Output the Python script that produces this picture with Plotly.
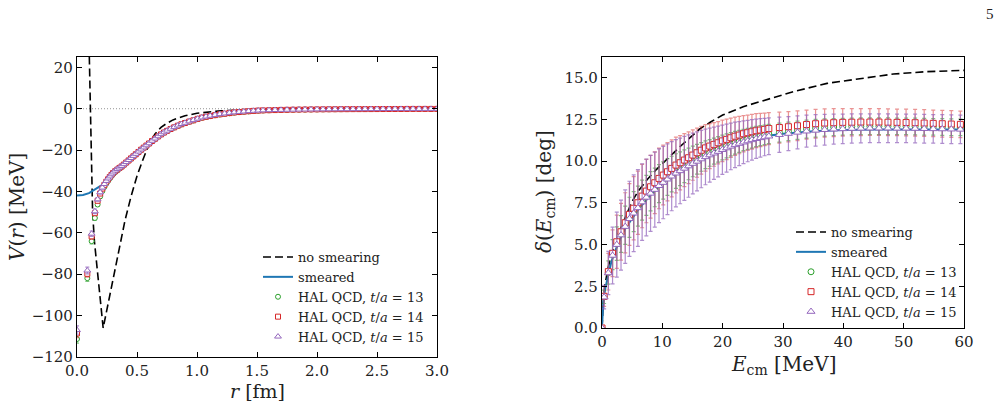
import plotly.graph_objects as go

# ---------------- Left panel data: V(r) ----------------
r_hal = [0.0, 0.086, 0.122, 0.149, 0.172, 0.193, 0.211, 0.228, 0.244, 0.259, 0.273, 0.287, 0.300,
         0.318, 0.336, 0.354, 0.372, 0.390, 0.410, 0.430, 0.450, 0.470, 0.490, 0.512, 0.534, 0.556,
         0.578, 0.600, 0.625, 0.650, 0.675, 0.700, 0.725, 0.750, 0.780, 0.810, 0.840, 0.870, 0.900,
         0.935, 0.970, 1.005, 1.040, 1.075, 1.110, 1.150, 1.190, 1.230, 1.270, 1.310, 1.350, 1.390,
         1.430, 1.470, 1.510, 1.55, 1.60, 1.65, 1.70, 1.75, 1.80, 1.85, 1.90, 1.95, 2.00, 2.05, 2.10,
         2.15, 2.20, 2.25, 2.30, 2.35, 2.40, 2.45, 2.50, 2.55, 2.60, 2.65, 2.70, 2.75, 2.80, 2.85,
         2.90, 2.95, 3.00]

V_t13 = [-111.3, -81.9, -64.0, -52.8, -46.3, -42.4, -39.8, -37.8, -36.2, -34.9, -33.7, -32.6, -31.6,
         -30.6, -29.8, -28.9, -28.2, -27.2, -26.2, -25.2, -24.2, -23.1, -22.1, -21.0, -19.9, -18.9,
         -17.9, -16.9, -15.7, -14.6, -13.5, -12.5, -11.6, -10.8, -9.9, -9.1, -8.3, -7.6, -7.0, -6.3,
         -5.7, -5.0, -4.4, -4.0, -3.6, -3.2, -2.8, -2.5, -2.2, -1.9, -1.7, -1.5, -1.3, -1.1, -0.95,
         -0.85, -0.76, -0.68, -0.61, -0.55, -0.5, -0.45, -0.41, -0.37, -0.34, -0.31, -0.29, -0.27,
         -0.25, -0.23, -0.21, -0.2, -0.19, -0.18, -0.17, -0.16, -0.15, -0.14, -0.13, -0.12, -0.11,
         -0.11, -0.1, -0.1, -0.09]
V_t14 = [-108.6, -79.8, -61.7, -50.5, -44.5, -41.0, -38.6, -36.8, -35.3, -34.1, -33.0, -32.0, -31.1,
         -30.2, -29.4, -28.6, -27.9, -27.0, -26.0, -25.0, -24.0, -23.0, -22.0, -20.9, -19.8, -18.8,
         -17.8, -16.8, -15.6, -14.5, -13.4, -12.4, -11.5, -10.7, -9.8, -9.0, -8.2, -7.5, -6.9, -6.2,
         -5.6, -4.9, -4.3, -3.9, -3.5, -3.1, -2.7, -2.4, -2.1, -1.8, -1.6, -1.4, -1.2, -1.05, -0.9,
         -0.8, -0.72, -0.65, -0.58, -0.52, -0.47, -0.42, -0.38, -0.35, -0.32, -0.29, -0.27, -0.25,
         -0.23, -0.21, -0.20, -0.19, -0.18, -0.17, -0.16, -0.15, -0.14, -0.13, -0.12, -0.11, -0.10,
         -0.10, -0.09, -0.09, -0.08]
V_t15 = [-107.0, -78.2, -60.4, -49.6, -43.8, -40.4, -38.1, -36.4, -34.9, -33.7, -32.7, -31.7, -30.8,
         -29.9, -29.1, -28.4, -27.7, -26.8, -25.8, -24.8, -23.8, -22.8, -21.8, -20.7, -19.7, -18.7,
         -17.7, -16.7, -15.5, -14.4, -13.3, -12.3, -11.4, -10.6, -9.7, -8.9, -8.1, -7.4, -6.8, -6.1,
         -5.5, -4.8, -4.2, -3.8, -3.4, -3.0, -2.6, -2.3, -2.0, -1.75, -1.55, -1.35, -1.15, -1.0, -0.87,
         -0.77, -0.69, -0.62, -0.56, -0.5, -0.45, -0.41, -0.37, -0.34, -0.31, -0.28, -0.26, -0.24,
         -0.22, -0.21, -0.2, -0.19, -0.18, -0.17, -0.16, -0.15, -0.14, -0.13, -0.12, -0.11, -0.1,
         -0.1, -0.09, -0.09, -0.08]
V_err = [2.0, 1.6, 1.3, 1.1, 0.9, 0.8, 0.7, 0.65, 0.6, 0.55, 0.5, 0.5, 0.45, 0.45, 0.4, 0.4, 0.4,
         0.35, 0.35, 0.35, 0.3, 0.3, 0.3, 0.3, 0.3, 0.25, 0.25, 0.25, 0.25, 0.25, 0.2, 0.2, 0.2, 0.2,
         0.2, 0.2, 0.2, 0.15, 0.15, 0.15, 0.15, 0.15, 0.15, 0.15, 0.15, 0.1, 0.1, 0.1, 0.1, 0.1, 0.1,
         0.1, 0.1, 0.1, 0.1, 0.1, 0.1, 0.1, 0.1, 0.1, 0.1, 0.1, 0.1, 0.1, 0.1, 0.1, 0.1, 0.1, 0.1,
         0.1, 0.1, 0.1, 0.1, 0.1, 0.1, 0.1, 0.1, 0.1, 0.1, 0.1, 0.1, 0.1, 0.1, 0.1, 0.1]

r_bare = [0.09, 0.10, 0.11, 0.12, 0.13, 0.145, 0.16, 0.18, 0.20, 0.218, 0.26, 0.30, 0.35, 0.40,
          0.45, 0.50, 0.55, 0.60, 0.65, 0.70, 0.75, 0.80, 0.90, 1.00, 1.20, 1.40, 1.60, 2.00,
          2.50, 3.00]
V_bare = [60.0, 30.0, 5.0, -25.0, -50.0, -64.0, -73.0, -85.0, -97.0, -106.0, -94.0, -82.5, -68.0,
          -54.0, -42.5, -32.5, -24.5, -17.2, -12.2, -9.0, -7.0, -5.4, -3.4, -2.2, -1.0, -0.5,
          -0.25, -0.07, -0.02, 0.0]

r_smear = [0.0, 0.05, 0.10, 0.15, 0.20, 0.25, 0.30, 0.35, 0.40, 0.45, 0.50, 0.55, 0.60, 0.65,
           0.70, 0.80, 0.90, 1.00, 1.10, 1.20, 1.40, 1.60, 1.80, 2.00, 2.50, 3.00]
V_smear = [-42.0, -41.7, -40.8, -39.2, -37.2, -35.0, -32.6, -30.2, -27.8, -25.4, -22.9, -20.3,
           -17.8, -15.3, -13.0, -9.6, -6.9, -5.0, -3.7, -2.7, -1.5, -0.85, -0.5, -0.3, -0.12, -0.06]

# ---------------- Right panel data: phase shift ----------------
E_hal = [0.0, 0.35, 1.05, 1.75, 2.45, 3.15, 3.85, 4.55, 5.25, 5.95, 6.65, 7.35, 8.05, 8.75, 9.45,
         10.15, 10.85, 11.55, 12.25, 12.95, 13.65, 14.35, 15.05, 15.75, 16.45, 17.15, 17.85, 18.55,
         19.25, 19.95, 20.65, 21.35, 22.05, 22.75, 23.45, 24.15, 24.85, 25.55, 26.25, 26.95, 27.65,
         29.4, 30.9, 32.4, 33.9, 35.4, 36.9, 38.4, 39.9, 41.4, 42.9, 44.4, 45.9, 47.4, 48.9, 50.4,
         51.9, 53.4, 54.9, 56.4, 57.9, 59.4]

d_t13 = [0.0, 1.87, 3.33, 4.4, 5.06, 5.64, 6.16, 6.64, 6.98, 7.31, 7.67, 7.95, 8.2, 8.43, 8.66,
         8.85, 9.05, 9.23, 9.41, 9.55, 9.7, 9.84, 9.99, 10.12, 10.26, 10.39, 10.5, 10.61, 10.71,
         10.82, 10.92, 11.02, 11.11, 11.19, 11.27, 11.34, 11.41, 11.48, 11.53, 11.58, 11.63,
         11.72, 11.79, 11.86, 11.93, 11.98, 12.02, 12.05, 12.07, 12.09, 12.1, 12.1, 12.1, 12.1,
         12.09, 12.09, 12.08, 12.07, 12.06, 12.05, 12.04, 12.03]
d_t14 = [0.0, 1.9, 3.38, 4.48, 5.17, 5.77, 6.31, 6.81, 7.18, 7.51, 7.91, 8.21, 8.47, 8.71, 8.97,
         9.17, 9.37, 9.57, 9.77, 9.91, 10.07, 10.21, 10.37, 10.51, 10.66, 10.80, 10.91, 11.01,
         11.11, 11.22, 11.31, 11.41, 11.50, 11.57, 11.65, 11.71, 11.77, 11.83, 11.87, 11.91, 11.96,
         12.02, 12.07, 12.13, 12.20, 12.25, 12.29, 12.31, 12.33, 12.34, 12.35, 12.35, 12.35, 12.34,
         12.33, 12.32, 12.31, 12.29, 12.27, 12.25, 12.23, 12.21]
d_t15 = [0.0, 1.85, 3.3, 4.35, 5.0, 5.57, 6.08, 6.55, 6.88, 7.2, 7.55, 7.83, 8.07, 8.3, 8.53,
         8.72, 8.92, 9.1, 9.28, 9.42, 9.57, 9.71, 9.86, 9.99, 10.13, 10.26, 10.37, 10.48, 10.58,
         10.69, 10.79, 10.89, 10.98, 11.06, 11.14, 11.21, 11.28, 11.35, 11.4, 11.45, 11.5,
         11.59, 11.66, 11.73, 11.8, 11.85, 11.89, 11.92, 11.94, 11.96, 11.97, 11.98, 11.98, 11.98,
         11.97, 11.97, 11.96, 11.95, 11.94, 11.93, 11.92, 11.91]

e_t13 = [0.0, 0.4, 0.7, 0.9, 1.0, 1.1, 1.15, 1.2, 1.2, 1.2, 1.2, 1.2, 1.18, 1.16, 1.14, 1.12, 1.1,
         1.07, 1.04, 1.01, 0.98, 0.95, 0.92, 0.89, 0.86, 0.83, 0.8, 0.78, 0.76, 0.74, 0.72, 0.7,
         0.68, 0.66, 0.64, 0.63, 0.62, 0.61, 0.6, 0.59, 0.58, 0.57, 0.56, 0.55, 0.54, 0.53, 0.52,
         0.51, 0.5, 0.5, 0.5, 0.5, 0.5, 0.5, 0.5, 0.5, 0.5, 0.5, 0.5, 0.5, 0.5, 0.5]
e_t14 = [0.0, 0.6, 1.1, 1.4, 1.6, 1.7, 1.8, 1.85, 1.9, 1.9, 1.9, 1.9, 1.88, 1.85, 1.82, 1.79, 1.75,
         1.71, 1.67, 1.63, 1.59, 1.55, 1.51, 1.47, 1.43, 1.39, 1.35, 1.31, 1.27, 1.24, 1.21, 1.18,
         1.15, 1.12, 1.09, 1.06, 1.04, 1.02, 1.0, 0.98, 0.96, 0.93, 0.91, 0.89, 0.87, 0.86, 0.85,
         0.84, 0.83, 0.82, 0.81, 0.8, 0.8, 0.8, 0.8, 0.8, 0.8, 0.8, 0.8, 0.8, 0.8, 0.8]
e_t15 = [0.0, 0.7, 1.3, 1.7, 1.95, 2.1, 2.2, 2.25, 2.3, 2.3, 2.3, 2.3, 2.28, 2.25, 2.21, 2.17, 2.12,
         2.07, 2.02, 1.97, 1.92, 1.87, 1.82, 1.77, 1.72, 1.67, 1.62, 1.57, 1.52, 1.48, 1.44, 1.4,
         1.36, 1.32, 1.28, 1.24, 1.21, 1.18, 1.15, 1.12, 1.1, 1.06, 1.02, 0.99, 0.96, 0.94, 0.92,
         0.9, 0.89, 0.88, 0.87, 0.86, 0.86, 0.86, 0.86, 0.86, 0.86, 0.86, 0.86, 0.86, 0.86, 0.86]

E_bare = [0.0, 0.2, 0.5, 1.0, 1.5, 2.0, 3.0, 4.0, 5.0, 6.0, 7.5, 9.0, 10.5, 12.0, 13.0, 14.5,
          16.25, 18.0, 20.0, 23.4, 27.0, 31.7, 37.3, 42.8, 48.3, 53.8, 60.0]
d_bare = [0.0, 1.5, 2.6, 3.6, 4.3, 4.9, 5.9, 6.8, 7.6, 8.2, 8.9, 9.5, 10.0, 10.55, 10.9, 11.4,
          11.95, 12.35, 12.77, 13.27, 13.65, 14.17, 14.67, 14.97, 15.23, 15.37, 15.45]

E_smear = [0.0, 0.2, 0.5, 1.0, 1.5, 2.0, 3.0, 4.0, 5.0, 6.0, 8.0, 10.0, 12.0, 14.0, 16.0, 18.0,
           20.0, 23.0, 26.0, 28.0, 30.0, 35.0, 40.0, 45.0, 50.0, 55.0, 60.0]
d_smear = [0.0, 1.5, 2.3, 3.2, 3.9, 4.45, 5.35, 6.05, 6.6, 7.1, 7.95, 8.7, 9.3, 9.8, 10.2, 10.55,
           10.85, 11.2, 11.45, 11.56, 11.65, 11.8, 11.88, 11.91, 11.92, 11.91, 11.9]

labels = ["no smearing", "smeared",
          "HAL QCD, <i>t</i>/<i>a</i> = 13",
          "HAL QCD, <i>t</i>/<i>a</i> = 14",
          "HAL QCD, <i>t</i>/<i>a</i> = 15"]

# ---------------- styling ----------------
FONT = "DejaVu Serif"
BLUE = "#1f77b4"
GREEN = "#2ca02c"
RED = "#d62728"
PURPLE = "#9467bd"
ERRC = {GREEN: "rgba(44,160,44,0.6)", RED: "rgba(214,39,40,0.5)", PURPLE: "rgba(148,103,189,0.75)"}
DASH = "8px,4px"

fig = go.Figure()

def add_panel(xa, ya, leg, xb, yb, xs, ys, xh, series, msize):
    fig.add_trace(go.Scatter(x=xb, y=yb, mode="lines", name=labels[0], legend=leg,
                             line=dict(color="black", width=1.6, dash=DASH),
                             xaxis=xa, yaxis=ya))
    fig.add_trace(go.Scatter(x=xs, y=ys, mode="lines", name=labels[1], legend=leg,
                             line=dict(color=BLUE, width=2),
                             xaxis=xa, yaxis=ya))
    for (yv, ev, col, sym, lab) in series:
        fig.add_trace(go.Scatter(
            x=xh, y=yv, mode="markers", name=lab, legend=leg,
            marker=dict(symbol=sym, size=msize if sym != "triangle-up" else msize + 1,
                        color="white", line=dict(color=col, width=1)),
            error_y=dict(type="data", array=ev, visible=True, color=ERRC[col],
                         thickness=1.2, width=2),
            xaxis=xa, yaxis=ya))

add_panel("x", "y", "legend", r_bare, V_bare, r_smear, V_smear, r_hal,
          [(V_t13, V_err, GREEN, "circle", labels[2]),
           (V_t14, V_err, RED, "square", labels[3]),
           (V_t15, V_err, PURPLE, "triangle-up", labels[4])], 5)
add_panel("x2", "y2", "legend2", E_bare, d_bare, E_smear, d_smear, E_hal,
          [(d_t13, e_t13, GREEN, "circle", labels[2]),
           (d_t14, e_t14, RED, "square", labels[3]),
           (d_t15, e_t15, PURPLE, "triangle-up", labels[4])], 6)

W, H = 1005, 406
def xd(a, b):
    return [a / W, b / W]
def yd(top, bot):
    return [(H - bot) / H, (H - top) / H]

axis_common = dict(showline=True, linecolor="black", linewidth=1.2, mirror="ticks",
                   ticks="inside", ticklen=5, tickwidth=1, tickcolor="black",
                   showgrid=False, zeroline=False, automargin=False,
                   tickfont=dict(family=FONT, size=15, color="#222"))

fig.update_layout(
    width=W, height=H, autosize=False,
    margin=dict(l=0, r=0, t=0, b=0),
    paper_bgcolor="white", plot_bgcolor="white",
    font=dict(family=FONT, color="#222"),
    xaxis=dict(domain=xd(77, 437), range=[0, 3], tickvals=[0, 0.5, 1, 1.5, 2, 2.5, 3],
               tickformat=".1f", anchor="y", **axis_common),
    yaxis=dict(domain=yd(57, 357), range=[-120, 25], tickvals=[-120, -100, -80, -60, -40, -20, 0, 20],
               anchor="x", **axis_common),
    xaxis2=dict(domain=xd(602, 964), range=[0, 60], tickvals=[0, 10, 20, 30, 40, 50, 60],
                anchor="y2", **axis_common),
    yaxis2=dict(domain=yd(57, 328), range=[0, 16.25],
                tickvals=[0, 2.5, 5, 7.5, 10, 12.5, 15], tickformat=".1f",
                anchor="x2", **axis_common),
    legend=dict(x=258 / W, y=(H - 242) / H, xanchor="left", yanchor="top",
                bgcolor="rgba(255,255,255,0)", font=dict(family=FONT, size=13, color="#222"),
                itemwidth=30, tracegroupgap=0),
    legend2=dict(x=791 / W, y=(H - 217) / H, xanchor="left", yanchor="top",
                 bgcolor="rgba(255,255,255,0)", font=dict(family=FONT, size=13, color="#222"),
                 itemwidth=30, tracegroupgap=0),
    showlegend=True,
)

# zero reference line on left panel
fig.add_shape(type="line", xref="x", yref="y", x0=0, x1=3, y0=0, y1=0,
              line=dict(color="#777", width=0.8, dash="1px,2px"), layer="below")

# axis titles as annotations
def lab(text, x, y, size=20, angle=0, family=FONT):
    return dict(text=text, x=x / W, y=(H - y) / H, xref="paper", yref="paper",
                xanchor="center", yanchor="middle", showarrow=False, textangle=angle,
                font=dict(family=family, size=size, color="#222"))

ann = [
    lab("<i>r</i> [fm]", 257, 391, size=19),
    lab("<i>V</i>(<i>r</i>) [MeV]", 17, 207, angle=-90),
    lab("<i>E</i><sub>cm</sub> [MeV]", 783, 365),
    lab("<i>δ</i>(<i>E</i><sub>cm</sub>) [deg]", 545, 192, angle=-90),
    lab("5", 990, 14, size=15, family="Liberation Serif"),
]
fig.update_layout(annotations=ann)

fig.write_html("out.html")
